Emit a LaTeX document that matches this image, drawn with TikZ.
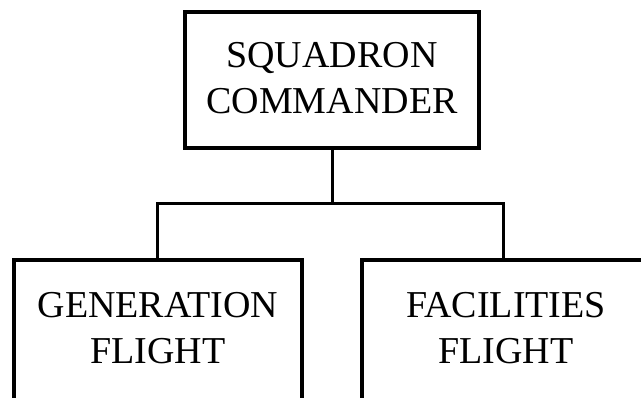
\documentclass[tikz,border=0pt]{standalone}
\usepackage{fontspec}
\setmainfont{Liberation Serif}
\usetikzlibrary{positioning}

\begin{document}
\begin{tikzpicture}[x=1pt, y=-1pt, every node/.style={font=\fontsize{38}{46}\selectfont}]

    %--------------------%
    % Parameters
    %--------------------%
    \def\boxthic{4.5pt}
    \def\linethic{3pt}
    \def\boxw{294pt}
    \def\boxh{136pt}

    \tikzset{
        unitbox/.style={draw, rectangle, line width=\boxthic, inner sep=0pt,
            minimum width=\boxw, minimum height=\boxh, align=center, text depth=5pt},
        orgline/.style={line width=\linethic}
    }

    \useasboundingbox (0,0) rectangle (641,398);
    \clip (0,0) rectangle (641,398);

    %--------------------%
    % Commander
    %--------------------%
    \node[unitbox] (sqn) at (332,80) {SQUADRON\\COMMANDER};

    %--------------------%
    % Flights
    %--------------------%
    \node[unitbox, minimum width=288pt, minimum height=144pt, text depth=8pt] (gen) at (158,332) {GENERATION\\FLIGHT};
    \node[unitbox, minimum width=288pt, minimum height=144pt, text depth=8pt] (fac) at (506,332) {FACILITIES\\FLIGHT};

    %--------------------%
    % Connections
    %--------------------%
    \coordinate (split) at (332,204);
    \draw[orgline] (sqn.south) -- (split);
    \draw[orgline] (gen.north -| 157,0) |- (split) -| (fac.north -| 503,0);
\end{tikzpicture}
\end{document}
